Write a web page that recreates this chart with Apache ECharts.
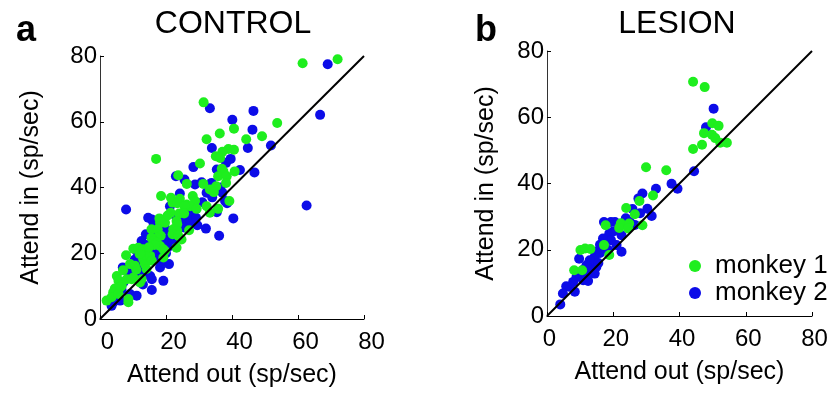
<!DOCTYPE html>
<html><head><meta charset="utf-8">
<script src="https://cdn.jsdelivr.net/npm/echarts@6/dist/echarts.min.js"></script>
<style>html,body{margin:0;padding:0;background:#fff}#c{width:837px;height:393px}</style>
</head><body><div id="c"></div>
<script>
const ticks = [0, 20, 40, 60, 80];
const panelTitles = ['CONTROL', 'LESION'];
const panelLetters = ['a', 'b'];
const seriesNames = ['monkey 1', 'monkey 2'];
const unityLine = [[0, 0], [80, 80]];

const controlMonkey1 = [[61.4,77.8],[72,79],[31.4,65.9],[53.7,59.6],[40.6,57.9],[36.3,56.4],[32.3,54.7],[44.3,54.7],[49.1,55.6],[38.9,51.7],[40.6,51.5],[37.1,50.9],[35.1,49.5],[36.4,49.0],[17,48.7],[30.3,47.3],[36.9,45.7],[37.4,44.9],[40.8,44.9],[23.7,43.7],[35.8,43.4],[38.4,43.4],[38.2,41.4],[26.3,41.1],[31.3,41.1],[35.2,40.4],[33.3,39.4],[34.5,38.6],[18.5,37.4],[21.5,36.9],[22,35.4],[24.2,36.6],[23.4,35.2],[28.1,37.4],[28.8,35.9],[26.3,34.8],[27.3,34.3],[39.2,35.9],[25.6,34.3],[29.3,33.5],[32.3,34.3],[35.8,33.5],[21.4,32.3],[24,32.1],[25.5,32.1],[33.3,32.3],[18,30.6],[18.2,29.3],[19.7,29.3],[23.2,29.8],[23.4,28.8],[22.2,27.3],[23.4,26.8],[27,27],[15.6,27.3],[17.5,27.3],[18.4,25.3],[17.2,24.7],[22,25.8],[23.7,25.3],[24.7,24.2],[15.6,24.7],[16.2,23.7],[17.2,23.2],[18.2,22.2],[10.1,21.4],[11.6,21.7],[7.9,19.4],[13.1,21.2],[14.1,20.2],[14.6,19.2],[19.2,21.2],[19.7,20.7],[23.2,21.7],[13.1,18.2],[13.6,16.7],[15.2,19.2],[15.7,17.7],[19.2,18.7],[9.1,16.7],[10.6,16.2],[14.1,15.2],[5.1,13.1],[5.6,11.6],[12.6,12.1],[12.1,11.1],[10.1,12.6],[8.1,12.1],[9.6,12.1],[6.6,10.1],[6.1,9.6],[4.5,9.3],[4.0,8.1],[8.6,5.1],[8.6,6.1],[2,5.6],[3.5,6.6],[5.6,7.6],[16.5,22.5],[14.8,21.8],[20.5,31.5],[12,19.8],[7,14.8],[11,15]];
const controlMonkey2 = [[69,77.5],[33.3,64.1],[46.5,63.3],[66.7,62.1],[40.1,60.6],[46.2,57.6],[51.8,52.8],[44.8,52.0],[33.9,52.0],[39.6,48.7],[38.2,47.5],[28.3,46.2],[35.4,45.5],[42.4,45.3],[46.8,44.6],[23,43.4],[25.6,42.4],[28.8,40.9],[30.8,41.6],[33.8,41.4],[32.3,38.4],[37.1,38.4],[24.2,38.2],[37.9,35.9],[38.5,35.2],[21.2,34.3],[35.4,32.5],[7.9,33.3],[23,31.3],[27.3,31.3],[40.4,30.6],[14.6,30.8],[15.7,30.3],[16.2,29.3],[24.7,30.3],[26.1,29.3],[27.3,29.3],[28.3,30.3],[29.1,30.8],[18.7,28.3],[20,27.3],[32.1,27.5],[25.6,27.8],[13.9,25.8],[15.7,26.8],[20.9,24.7],[36.1,25.3],[20.2,23.2],[21.2,22.2],[12.6,23.7],[22.2,23.2],[11.1,20.7],[16.2,20.2],[17.2,19.2],[18.7,17.2],[18.2,15.7],[20.9,16.7],[6.9,15.7],[12.1,17.2],[12.6,15.7],[8.1,14.6],[9.6,13.6],[13.6,14.6],[15.2,13.1],[15.7,12.1],[19.2,11.6],[7.1,11.1],[15.7,8.8],[11.1,7.1],[9.1,7.6],[6.1,5.6],[5.1,6.6],[62.6,34.5],[17.5,21.5],[19,24],[21.5,26],[14,22.5],[10.5,18],[11.5,14],[13,10.5],[6.5,9],[4,5],[3.5,4],[23.5,28],[29.5,28.5],[27.5,33],[31,35.5],[34,37],[36.5,40],[20,20],[18,26]];
const lesionMonkey1 = [[44.1,70.7],[47.6,69.1],[49.9,58.2],[51.8,57.4],[47.4,55.2],[49.8,54.7],[50.8,53.7],[46.8,51.7],[52.3,52.3],[54.3,52.3],[44.1,50.4],[29.9,44.9],[36,44],[32,36.4],[27.9,34.7],[23.9,32.6],[26.5,30.7],[22.3,28],[21.8,26.6],[24.8,27.9],[24.5,26.4],[28.8,27.4],[17.7,27.4],[17.2,21.4],[18.8,18.4],[10.1,19.9],[11.5,20.4],[13.1,20.2],[8.2,13.8],[10.6,13.8]];
const lesionMonkey2 = [[50.3,62.6],[48,57],[44.4,43.7],[37.6,39.9],[39.4,38.4],[32.9,38.4],[28.8,37],[27.6,35.5],[30.3,32.4],[31.6,30.2],[25.8,32.3],[28.1,31],[23.8,29.5],[25,28.4],[17.2,28.4],[19.3,28.4],[20.5,28.4],[18.8,24.9],[19.3,22.9],[16.9,23.4],[22.5,24.4],[21,21.4],[22.5,19.4],[18.5,19.9],[9.7,17.3],[14.9,19.4],[14.4,17.9],[16,19],[13.9,15.8],[12.9,16.8],[11.9,15.3],[14.9,14.8],[13.4,13.8],[14.4,12.8],[8.9,11.8],[9.9,12.3],[10.9,10.8],[12.4,10.6],[7.9,10.3],[6.9,8.8],[8.4,7.3],[5.8,9.0],[4.8,6.8],[4,3.5],[11,14],[12,12],[15.5,16],[17.5,20.5],[16,21.5],[20,25.5],[26.5,27.5]];

const GREEN = '#1eee1e', BLUE = '#0c0ce8';
const FONT = 'Liberation Sans, Arial, sans-serif';
const chart = echarts.init(document.getElementById('c'), null, {renderer: 'canvas'});

function xAx(idx, name, labPad) {
  return {
    gridIndex: idx, type: 'value', min: 0, max: 80, interval: 20,
    name: name, nameLocation: 'middle', nameGap: 44,
    nameTextStyle: {fontFamily: FONT, fontSize: 25, color: '#000'},
    axisLine: {lineStyle: {color: '#000', width: 1}},
    axisTick: {inside: true, length: 4, lineStyle: {color: '#000'}},
    axisLabel: {fontFamily: FONT, fontSize: 24, color: '#000', margin: 11, padding: labPad,
      formatter: v => String(ticks[ticks.indexOf(v)])},
    splitLine: {show: false}
  };
}
function yAx(idx, name, gap) {
  return {
    gridIndex: idx, type: 'value', min: 0, max: 80, interval: 20,
    name: name, nameLocation: 'middle', nameGap: gap,
    nameTextStyle: {fontFamily: FONT, fontSize: 25, color: '#000'},
    axisLine: {lineStyle: {color: '#333', width: 1}},
    axisTick: {inside: true, length: 4, lineStyle: {color: '#000'}},
    axisLabel: {fontFamily: FONT, fontSize: 24, color: '#000', margin: 3, padding: [10, 0, 0, 0],
      formatter: v => String(ticks[ticks.indexOf(v)])},
    splitLine: {show: false}
  };
}
function scatter(idx, name, data, color, z) {
  return {type: 'scatter', name: name, xAxisIndex: idx, yAxisIndex: idx, data: data,
    symbol: 'circle', symbolSize: 10, itemStyle: {color: color, opacity: 1}, z: z, silent: true};
}
function diag(idx) {
  return {type: 'line', xAxisIndex: idx, yAxisIndex: idx, data: unityLine, symbol: 'none',
    lineStyle: {color: '#000', width: 2}, z: 5, silent: true};
}

chart.setOption({
  animation: false,
  backgroundColor: '#fff',
  title: [
    {text: panelLetters[0], left: 11, top: 8, textStyle: {fontFamily: FONT, fontSize: 36, fontWeight: 'bold', color: '#000'}},
    {text: panelTitles[0], left: 228, top: 3, textAlign: 'center', textStyle: {fontFamily: FONT, fontSize: 32, fontWeight: 'normal', color: '#000'}},
    {text: panelLetters[1], left: 470, top: 8, textStyle: {fontFamily: FONT, fontSize: 36, fontWeight: 'bold', color: '#000'}},
    {text: panelTitles[1], left: 672, top: 3, textAlign: 'center', textStyle: {fontFamily: FONT, fontSize: 32, fontWeight: 'normal', color: '#000'}}
  ],
  legend: {
    data: seriesNames, orient: 'vertical', left: 684, top: 248, itemGap: 1,
    itemWidth: 12, itemHeight: 12, icon: 'circle', selectedMode: false,
    textStyle: {fontFamily: FONT, fontSize: 26, color: '#000', padding: [0, 0, 0, 9]}
  },
  grid: [
    {left: 100, top: 56, width: 264, height: 264},
    {left: 547, top: 51, width: 265, height: 265}
  ],
  xAxis: [xAx(0, 'Attend out (sp/sec)', [0, 0, 0, 15]), xAx(1, 'Attend out (sp/sec)', [0, 0, 0, 5])],
  yAxis: [yAx(0, 'Attend in (sp/sec)', 56), yAx(1, 'Attend in (sp/sec)', 48)],
  series: [
    scatter(0, seriesNames[1], controlMonkey2, BLUE, 2),
    scatter(0, seriesNames[0], controlMonkey1, GREEN, 3),
    diag(0),
    scatter(1, seriesNames[0], lesionMonkey1, GREEN, 3),
    scatter(1, seriesNames[1], lesionMonkey2, BLUE, 2),
    diag(1)
  ]
});
</script></body></html>
